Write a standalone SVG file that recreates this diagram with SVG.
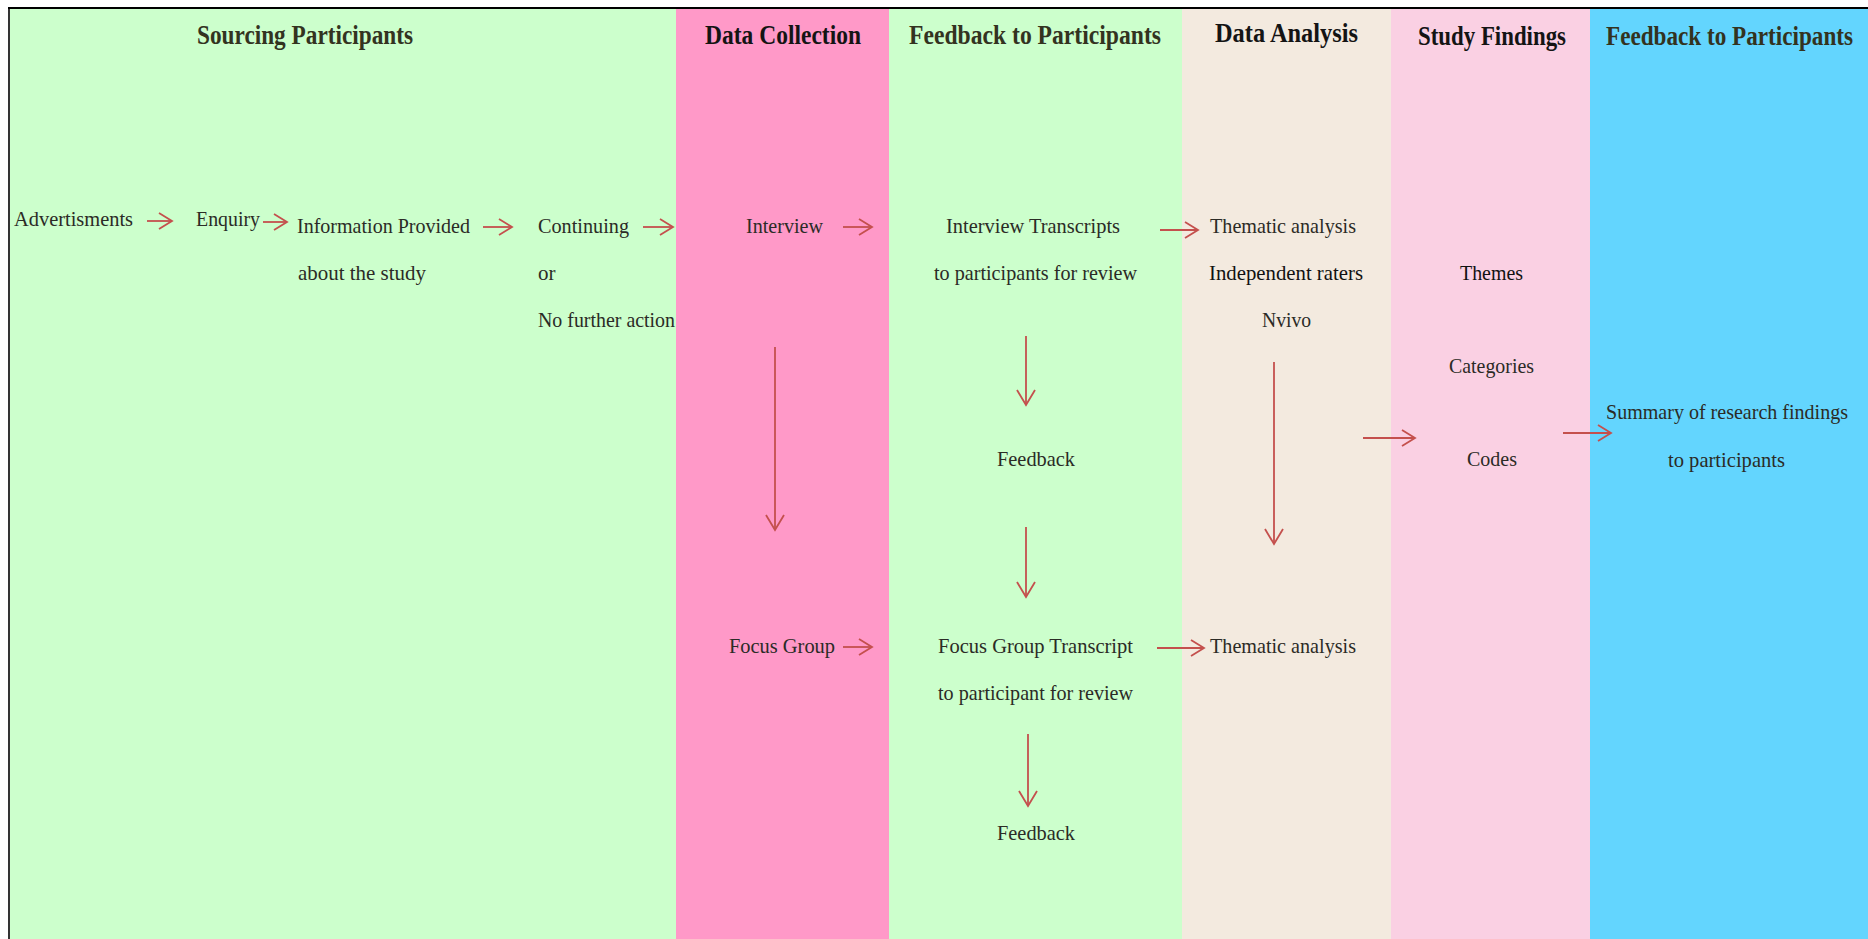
<svg xmlns="http://www.w3.org/2000/svg" width="1868" height="939" viewBox="0 0 1868 939">
  <style>
    .title { font-family: "Liberation Serif", "Times New Roman", serif; font-size: 28px; font-weight: bold; fill: #141414; }
    .title.soft { fill: #33331f; }
    .label { font-family: "Liberation Serif", "Times New Roman", serif; font-size: 21px; fill: #2b2b26; }
    .label.dark { fill: #111111; }
    .flow { stroke: #c4504d; stroke-width: 1.8; fill: none; }
  </style>
  <defs>
    <marker id="headH" markerUnits="userSpaceOnUse" markerWidth="16" markerHeight="18" refX="13" refY="8" orient="auto" overflow="visible">
      <path d="M0,0 L13,8 L0,16" fill="none" stroke="#c4504d" stroke-width="1.8"/>
    </marker>
    <marker id="headV" markerUnits="userSpaceOnUse" markerWidth="18" markerHeight="20" refX="15" refY="9" orient="auto" overflow="visible">
      <path d="M0,0 L15,9 L0,18" fill="none" stroke="#c4504d" stroke-width="1.8"/>
    </marker>
  </defs>

  <rect x="0" y="0" width="1868" height="939" fill="#ffffff"/>

  <!-- stage columns -->
  <g id="lanes">
    <rect x="10" y="9" width="666" height="930" fill="#ccffcc"/>
    <rect x="676" y="9" width="213" height="930" fill="#ff99c8"/>
    <rect x="889" y="9" width="293" height="930" fill="#ccffcc"/>
    <rect x="1182" y="9" width="209" height="930" fill="#f3eadf"/>
    <rect x="1391" y="9" width="199" height="930" fill="#fad0e3"/>
    <rect x="1590" y="9" width="278" height="930" fill="#63d5fe"/>
  </g>

  <!-- outer frame -->
  <g id="frame">
    <line x1="8" y1="8" x2="1868" y2="8" stroke="#000" stroke-width="2"/>
    <line x1="9" y1="7" x2="9" y2="939" stroke="#000" stroke-width="1.6"/>
  </g>

  <!-- stage headings -->
  <g id="headings">
    <text class="title soft" x="197" y="44" textLength="216" lengthAdjust="spacingAndGlyphs">Sourcing Participants</text>
    <text class="title" x="705" y="44" textLength="156" lengthAdjust="spacingAndGlyphs">Data Collection</text>
    <text class="title soft" x="909" y="44" textLength="252" lengthAdjust="spacingAndGlyphs">Feedback to Participants</text>
    <text class="title" x="1215" y="42" textLength="143" lengthAdjust="spacingAndGlyphs">Data Analysis</text>
    <text class="title" x="1418" y="45" textLength="148" lengthAdjust="spacingAndGlyphs">Study Findings</text>
    <text class="title soft" x="1606" y="45" textLength="247" lengthAdjust="spacingAndGlyphs">Feedback to Participants</text>
  </g>

  <!-- sourcing participants -->
  <g id="advertisments"><text class="label" x="14" y="226" textLength="119" lengthAdjust="spacingAndGlyphs">Advertisments</text></g>
  <g id="enquiry"><text class="label" x="196" y="226" textLength="64" lengthAdjust="spacingAndGlyphs">Enquiry</text></g>
  <g id="information">
    <text class="label" x="297" y="233" textLength="173" lengthAdjust="spacingAndGlyphs">Information Provided</text>
    <text class="label" x="298" y="280" textLength="128" lengthAdjust="spacingAndGlyphs">about the study</text>
  </g>
  <g id="continuing">
    <text class="label" x="538" y="233" textLength="91" lengthAdjust="spacingAndGlyphs">Continuing</text>
    <text class="label" x="538" y="280">or</text>
    <text class="label" x="538" y="327" textLength="137" lengthAdjust="spacingAndGlyphs">No further action</text>
  </g>

  <!-- data collection -->
  <g id="interview"><text class="label" x="746" y="233" textLength="77" lengthAdjust="spacingAndGlyphs">Interview</text></g>
  <g id="focus-group"><text class="label" x="729" y="653" textLength="106" lengthAdjust="spacingAndGlyphs">Focus Group</text></g>

  <!-- feedback to participants -->
  <g id="interview-transcripts">
    <text class="label" x="946" y="233" textLength="174" lengthAdjust="spacingAndGlyphs">Interview Transcripts</text>
    <text class="label" x="934" y="280" textLength="203" lengthAdjust="spacingAndGlyphs">to participants for review</text>
  </g>
  <g id="feedback-interview"><text class="label" x="997" y="466" textLength="78" lengthAdjust="spacingAndGlyphs">Feedback</text></g>
  <g id="focus-group-transcript">
    <text class="label" x="938" y="653" textLength="195" lengthAdjust="spacingAndGlyphs">Focus Group Transcript</text>
    <text class="label" x="938" y="700" textLength="195" lengthAdjust="spacingAndGlyphs">to participant for review</text>
  </g>
  <g id="feedback-focus"><text class="label" x="997" y="840" textLength="78" lengthAdjust="spacingAndGlyphs">Feedback</text></g>

  <!-- data analysis -->
  <g id="analysis-interview">
    <text class="label" x="1210" y="233" textLength="146" lengthAdjust="spacingAndGlyphs">Thematic analysis</text>
    <text class="label dark" x="1209" y="280" textLength="154" lengthAdjust="spacingAndGlyphs">Independent raters</text>
    <text class="label" x="1262" y="327" textLength="49" lengthAdjust="spacingAndGlyphs">Nvivo</text>
  </g>
  <g id="analysis-focus"><text class="label" x="1210" y="653" textLength="146" lengthAdjust="spacingAndGlyphs">Thematic analysis</text></g>

  <!-- study findings -->
  <g id="findings">
    <text class="label dark" x="1460" y="280" textLength="63" lengthAdjust="spacingAndGlyphs">Themes</text>
    <text class="label" x="1449" y="373" textLength="85" lengthAdjust="spacingAndGlyphs">Categories</text>
    <text class="label" x="1467" y="466" textLength="50" lengthAdjust="spacingAndGlyphs">Codes</text>
  </g>

  <!-- summary feedback -->
  <g id="summary">
    <text class="label" x="1606" y="419" textLength="242" lengthAdjust="spacingAndGlyphs">Summary of research findings</text>
    <text class="label" x="1668" y="467" textLength="117" lengthAdjust="spacingAndGlyphs">to participants</text>
  </g>

  <!-- connectors -->
  <g id="connectors">
    <line class="flow" x1="147" y1="221" x2="172" y2="221" marker-end="url(#headH)"/>
    <line class="flow" x1="263" y1="222" x2="287" y2="222" marker-end="url(#headH)"/>
    <line class="flow" x1="483" y1="227" x2="512" y2="227" marker-end="url(#headH)"/>
    <line class="flow" x1="643" y1="227" x2="673" y2="227" marker-end="url(#headH)"/>
    <line class="flow" x1="843" y1="227" x2="872" y2="227" marker-end="url(#headH)"/>
    <line class="flow" x1="1160" y1="230" x2="1198" y2="230" marker-end="url(#headH)"/>
    <line class="flow" x1="843" y1="647" x2="872" y2="647" marker-end="url(#headH)"/>
    <line class="flow" x1="1157" y1="648" x2="1204" y2="648" marker-end="url(#headH)"/>
    <line class="flow" x1="1363" y1="438" x2="1415" y2="438" marker-end="url(#headH)"/>
    <line class="flow" x1="1563" y1="433" x2="1611" y2="433" marker-end="url(#headH)"/>
    <line class="flow" x1="775" y1="347" x2="775" y2="530" marker-end="url(#headV)"/>
    <line class="flow" x1="1026" y1="336" x2="1026" y2="405" marker-end="url(#headV)"/>
    <line class="flow" x1="1026" y1="527" x2="1026" y2="597" marker-end="url(#headV)"/>
    <line class="flow" x1="1028" y1="734" x2="1028" y2="806" marker-end="url(#headV)"/>
    <line class="flow" x1="1274" y1="362" x2="1274" y2="544" marker-end="url(#headV)"/>
  </g>
</svg>
